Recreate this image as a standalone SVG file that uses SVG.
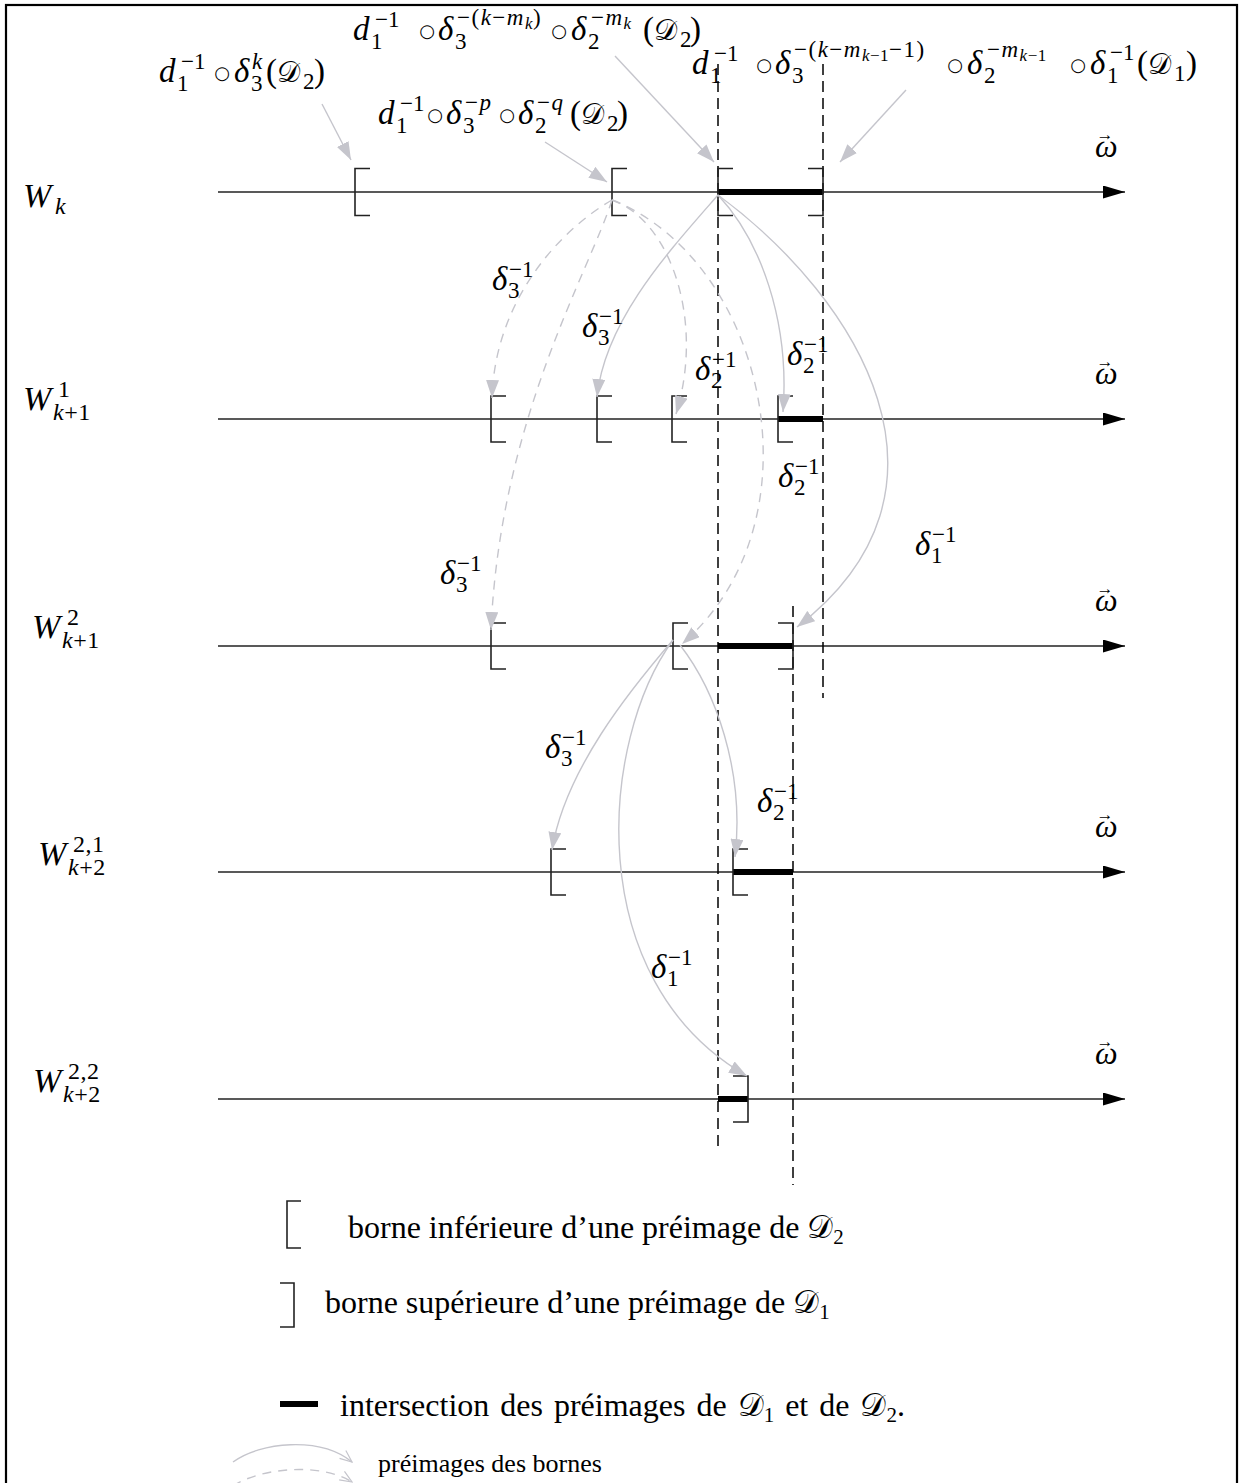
<svg xmlns="http://www.w3.org/2000/svg" width="1242" height="1483" viewBox="0 0 1242 1483">
<style>
text{font-family:"Liberation Serif","Times New Roman",serif;fill:#000}
.b{font-size:33px}
.s{font-size:23px}
.sl{font-size:23px;letter-spacing:1.5px}
.ss{font-size:17px;letter-spacing:0.5px}
.i{font-style:italic}
.cal{font-size:29px}
.w{font-size:34px;font-style:italic}
.ws{font-size:24px;letter-spacing:0.5px}
.op{font-family:"DejaVu Sans",sans-serif;font-size:18px;text-anchor:middle}
.om{font-size:32px;font-style:italic}
.va{font-size:17px;font-style:normal}
.leg{font-size:32px}
.leg4{font-size:26px}
.ax{stroke:#222;stroke-width:1.4;fill:none}
.br{stroke:#222;stroke-width:1.6;fill:none}
.bar{stroke:#000;stroke-width:6}
.vd{stroke:#000;stroke-width:1.5;stroke-dasharray:11 6;fill:none}
.cs{stroke:#c5c5cc;stroke-width:1.4;fill:none}
.cd{stroke:#c5c5cc;stroke-width:1.4;fill:none;stroke-dasharray:9 7}
</style>
<defs>
<marker id="ga" markerUnits="userSpaceOnUse" markerWidth="19" markerHeight="13" refX="18" refY="6.5" orient="auto"><path d="M0,0 L18,6.5 L0,13 z" fill="#c5c5cc"/></marker>
<marker id="ar" markerUnits="userSpaceOnUse" markerWidth="23" markerHeight="13" refX="22" refY="6.5" orient="auto"><path d="M0,0 L22,6.5 L0,13 z" fill="#000"/></marker>
<marker id="oa" markerUnits="userSpaceOnUse" markerWidth="14" markerHeight="12" refX="13" refY="6" orient="auto"><path d="M1,1 L13,6 L1,11" fill="none" stroke="#c5c5cc" stroke-width="1.2"/></marker>
</defs>
<rect width="1242" height="1483" fill="#fff"/>
<rect x="6" y="5" width="1231" height="1500" fill="none" stroke="#000" stroke-width="2.2"/>

<g id="axes">
<line class="ax" x1="218" y1="192" x2="1125" y2="192" marker-end="url(#ar)"/>
<line class="ax" x1="218" y1="419" x2="1125" y2="419" marker-end="url(#ar)"/>
<line class="ax" x1="218" y1="646" x2="1125" y2="646" marker-end="url(#ar)"/>
<line class="ax" x1="218" y1="872" x2="1125" y2="872" marker-end="url(#ar)"/>
<line class="ax" x1="218" y1="1099" x2="1125" y2="1099" marker-end="url(#ar)"/>
</g>

<g id="guides">
<line class="vd" x1="718" y1="64" x2="718" y2="1148"/>
<line class="vd" x1="823" y1="64" x2="823" y2="698"/>
<line class="vd" x1="793" y1="606" x2="793" y2="1185"/>
</g>

<g id="bars">
<line class="bar" x1="718" y1="192" x2="823" y2="192"/>
<line class="bar" x1="778" y1="419" x2="823" y2="419"/>
<line class="bar" x1="718" y1="646" x2="793" y2="646"/>
<line class="bar" x1="733" y1="872" x2="793" y2="872"/>
<line class="bar" x1="718" y1="1099" x2="748" y2="1099"/>
</g>

<g id="brackets">
<path class="br" d="M370,168.5 H355 V215.5 H370"/>
<path class="br" d="M627,168.5 H612 V215.5 H627"/>
<path class="br" d="M733,168.5 H718 V215.5 H733"/>
<path class="br" d="M808,168.5 H823 V215.5 H808"/>
<path class="br" d="M506,396 H491 V442 H506"/>
<path class="br" d="M612,396 H597 V442 H612"/>
<path class="br" d="M687,396 H672 V442 H687"/>
<path class="br" d="M793,396 H778 V442 H793"/>
<path class="br" d="M506,623 H491 V669 H506"/>
<path class="br" d="M688,623 H673 V669 H688"/>
<path class="br" d="M778,623 H793 V669 H778"/>
<path class="br" d="M566,849 H551 V895 H566"/>
<path class="br" d="M748,849 H733 V895 H748"/>
<path class="br" d="M733,1076 H748 V1122 H733"/>
</g>

<g id="connectors">
<line class="cs" x1="322" y1="104" x2="351" y2="160" marker-end="url(#ga)"/>
<line class="cs" x1="545" y1="142" x2="607" y2="182" marker-end="url(#ga)"/>
<line class="cs" x1="615" y1="56" x2="714" y2="162" marker-end="url(#ga)"/>
<line class="cs" x1="906" y1="90" x2="840" y2="162" marker-end="url(#ga)"/>
<path class="cd" d="M612,200 C560,230 495,300 492,398" marker-end="url(#ga)"/>
<path class="cd" d="M612,200 C590,270 500,420 491,630" marker-end="url(#ga)"/>
<path class="cd" d="M612,200 C670,220 705,320 676,414" marker-end="url(#ga)"/>
<path class="cd" d="M612,200 C765,260 825,520 682,644" marker-end="url(#ga)"/>
<path class="cs" d="M718,195 C670,250 605,320 597,397" marker-end="url(#ga)"/>
<path class="cs" d="M718,195 C760,240 790,320 783,412" marker-end="url(#ga)"/>
<path class="cs" d="M718,195 C860,300 975,490 797,627" marker-end="url(#ga)"/>
<path class="cs" d="M673,640 C630,690 565,770 552,850" marker-end="url(#ga)"/>
<path class="cs" d="M680,645 C715,690 745,770 735,857" marker-end="url(#ga)"/>
<path class="cs" d="M673,640 C600,740 580,980 747,1076" marker-end="url(#ga)"/>
</g>

<g id="lab-top">
<text class="b i" x="353" y="40">d</text>
<text class="s" x="375" y="27">−1</text>
<text class="s" x="371" y="49">1</text>
<text class="op" x="427" y="37">○</text>
<text class="b i" x="438" y="40">δ</text>
<text class="s" x="455" y="49">3</text>
<text class="sl" x="457" y="25">−(<tspan class="i">k</tspan>−<tspan class="i">m</tspan><tspan class="ss i" dy="4">k</tspan><tspan dy="-4">)</tspan></text>
<text class="op" x="559" y="37">○</text>
<text class="b i" x="571" y="40">δ</text>
<text class="s" x="588" y="49">2</text>
<text class="sl" x="591" y="25">−<tspan class="i">m</tspan><tspan class="ss i" dy="4">k</tspan></text>
<text class="b" x="643" y="40">(<tspan class="cal">𝒟</tspan></text>
<text class="s" x="680" y="47">2</text>
<text class="b" x="690" y="40">)</text>
</g>

<g id="lab-1">
<text class="b i" x="159" y="82">d</text>
<text class="s" x="181" y="69">−1</text>
<text class="s" x="177" y="91">1</text>
<text class="op" x="222" y="79">○</text>
<text class="b i" x="234" y="82">δ</text>
<text class="s i" x="252" y="69">k</text>
<text class="s" x="251" y="91">3</text>
<text class="b" x="266" y="82">(<tspan class="cal">𝒟</tspan></text>
<text class="s" x="303" y="89">2</text>
<text class="b" x="314" y="82">)</text>
</g>

<g id="lab-2">
<text class="b i" x="378" y="124">d</text>
<text class="s" x="400" y="111">−1</text>
<text class="s" x="396" y="133">1</text>
<text class="op" x="435" y="121">○</text>
<text class="b i" x="446" y="124">δ</text>
<text class="s" x="463" y="133">3</text>
<text class="sl" x="465" y="110">−<tspan class="i">p</tspan></text>
<text class="op" x="507" y="121">○</text>
<text class="b i" x="518" y="124">δ</text>
<text class="s" x="535" y="133">2</text>
<text class="sl" x="537" y="110">−<tspan class="i">q</tspan></text>
<text class="b" x="570" y="124">(<tspan class="cal">𝒟</tspan></text>
<text class="s" x="607" y="131">2</text>
<text class="b" x="617" y="124">)</text>
</g>

<g id="lab-4">
<text class="b i" x="692" y="74">d</text>
<text class="s" x="714" y="61">−1</text>
<text class="s" x="710" y="83">1</text>
<text class="op" x="764" y="71">○</text>
<text class="b i" x="775" y="74">δ</text>
<text class="s" x="792" y="83">3</text>
<text class="sl" x="794" y="57">−(<tspan class="i">k</tspan>−<tspan class="i">m</tspan><tspan class="ss" dy="4"><tspan class="i">k</tspan>−1</tspan><tspan dy="-4">−1)</tspan></text>
<text class="op" x="955" y="71">○</text>
<text class="b i" x="967" y="74">δ</text>
<text class="s" x="984" y="83">2</text>
<text class="sl" x="987" y="57">−<tspan class="i">m</tspan><tspan class="ss" dy="4"><tspan class="i">k</tspan>−1</tspan></text>
<text class="op" x="1078" y="71">○</text>
<text class="b i" x="1090" y="74">δ</text>
<text class="s" x="1107" y="83">1</text>
<text class="s" x="1110" y="60">−1</text>
<text class="b" x="1137" y="74">(<tspan class="cal">𝒟</tspan></text>
<text class="s" x="1174" y="81">1</text>
<text class="b" x="1186" y="74">)</text>
</g>

<g id="w-labels">
<g id="w0"><text class="w" x="23" y="207">W</text><text class="ws i" x="55" y="214">k</text></g>
<g id="w1"><text class="w" x="23" y="410">W</text><text class="ws" x="58" y="397">1</text><text class="ws" x="53" y="420"><tspan class="i">k</tspan>+1</text></g>
<g id="w2"><text class="w" x="32" y="638">W</text><text class="ws" x="67" y="625">2</text><text class="ws" x="62" y="648"><tspan class="i">k</tspan>+1</text></g>
<g id="w21"><text class="w" x="38" y="865">W</text><text class="ws" x="73" y="852">2,1</text><text class="ws" x="68" y="875"><tspan class="i">k</tspan>+2</text></g>
<g id="w22"><text class="w" x="33" y="1092">W</text><text class="ws" x="68" y="1079">2,2</text><text class="ws" x="63" y="1102"><tspan class="i">k</tspan>+2</text></g>
</g>

<g id="omega-labels">
<text class="om" x="1095" y="157">ω<tspan class="va" dx="-21" dy="-17">→</tspan></text>
<text class="om" x="1095" y="384">ω<tspan class="va" dx="-21" dy="-17">→</tspan></text>
<text class="om" x="1095" y="611">ω<tspan class="va" dx="-21" dy="-17">→</tspan></text>
<text class="om" x="1095" y="837">ω<tspan class="va" dx="-21" dy="-17">→</tspan></text>
<text class="om" x="1095" y="1064">ω<tspan class="va" dx="-21" dy="-17">→</tspan></text>
</g>

<g id="delta-labels">
<g><text class="b i" x="492" y="290">δ</text><text class="s" x="509" y="277">−1</text><text class="s" x="508" y="298">3</text></g>
<g><text class="b i" x="582" y="337">δ</text><text class="s" x="599" y="324">−1</text><text class="s" x="598" y="345">3</text></g>
<g><text class="b i" x="695" y="380">δ</text><text class="s" x="712" y="367">−1</text><text class="s" x="711" y="388">2</text></g>
<g><text class="b i" x="787" y="365">δ</text><text class="s" x="804" y="352">−1</text><text class="s" x="803" y="373">2</text></g>
<g><text class="b i" x="778" y="487">δ</text><text class="s" x="795" y="474">−1</text><text class="s" x="794" y="495">2</text></g>
<g><text class="b i" x="915" y="555">δ</text><text class="s" x="932" y="542">−1</text><text class="s" x="931" y="563">1</text></g>
<g><text class="b i" x="440" y="584">δ</text><text class="s" x="457" y="571">−1</text><text class="s" x="456" y="592">3</text></g>
<g><text class="b i" x="545" y="758">δ</text><text class="s" x="562" y="745">−1</text><text class="s" x="561" y="766">3</text></g>
<g><text class="b i" x="757" y="812">δ</text><text class="s" x="774" y="799">−1</text><text class="s" x="773" y="820">2</text></g>
<g><text class="b i" x="651" y="978">δ</text><text class="s" x="668" y="965">−1</text><text class="s" x="667" y="986">1</text></g>
</g>

<g id="legend">
<path class="br" d="M301,1201 H287 V1248 H301"/>
<text class="leg" x="348" y="1238">borne inférieure d’une préimage de 𝒟<tspan font-size="21" dy="6">2</tspan></text>
<path class="br" d="M280,1283 H294 V1327 H280"/>
<text class="leg" x="325" y="1313">borne supérieure d’une préimage de 𝒟<tspan font-size="21" dy="6">1</tspan></text>
<line class="bar" x1="280" y1="1404" x2="318" y2="1404"/>
<text class="leg" x="340" y="1416" word-spacing="3">intersection des préimages de 𝒟<tspan font-size="21" dy="6">1</tspan><tspan dy="-6"> et de 𝒟</tspan><tspan font-size="21" dy="6">2</tspan><tspan dy="-6">.</tspan></text>
<path class="cs" d="M233,1462 C260,1442 320,1436 352,1462" marker-end="url(#oa)"/>
<path class="cd" d="M233,1486 C260,1468 320,1462 352,1482" marker-end="url(#oa)"/>
<text class="leg4" x="378" y="1472">préimages des bornes</text>
</g>
</svg>
